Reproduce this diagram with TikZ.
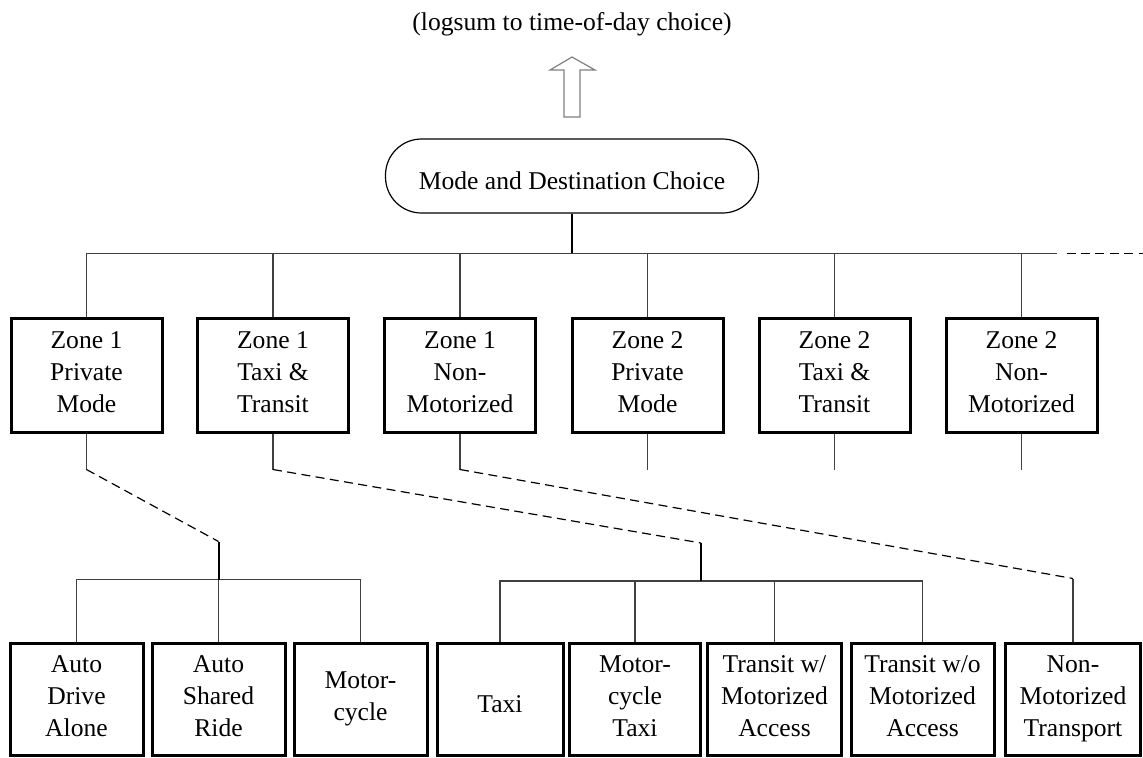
\documentclass[tikz,border=0pt]{standalone}
\usepackage{fontspec}
\setmainfont{Liberation Serif}

\begin{document}
\begin{tikzpicture}[x=0.5pt,y=-0.5pt,
	every node/.style={font=\fontsize{12.8pt}{15.8pt}\selectfont, align=center, inner sep=0pt,
		execute at begin node=\rule{0pt}{16pt}, execute at end node=\rule[-3pt]{0pt}{3pt}},
	zonebox/.style={draw, line width=1.5pt, minimum width=75.5pt, minimum height=57pt},
	altbox/.style={draw, line width=1.5pt, minimum height=56pt},
	link/.style={black!75, line width=0.55pt},
	trunk/.style={black, line width=1pt},
	nest/.style={black, line width=0.6pt, dash pattern=on 4.5pt off 2.7pt}]
		\useasboundingbox (0,0) rectangle (1143,757);

		\node (logsum) at (572,17) {(logsum to time-of-day choice)};
		\draw[gray, line width=0.6pt] (564,117) -- (564,70) -- (550,70) -- (572,57) -- (595,70) -- (580,70) -- (580,117) -- cycle;
		\node[draw, line width=0.6pt, rounded corners=18pt, minimum width=186.5pt, minimum height=37pt] (md) at (572,176) {Mode and Destination Choice};

		\foreach \i/\x/\txt in {1/86.5/{Zone 1\\Private\\Mode}, 2/273/{Zone 1\\Taxi \&\\Transit}, 3/460/{Zone 1\\Non-\\Motorized},
			4/647.5/{Zone 2\\Private\\Mode}, 5/834.5/{Zone 2\\Taxi \&\\Transit}, 6/1021.5/{Zone 2\\Non-\\Motorized}}{
			\node[zonebox] (z\i) at (\x,375) {\txt};
		}

		\draw[trunk] (md.south) -- ++(0,40) coordinate (hub);
		\draw[link] (z1.north) -- (z1.north |- hub) -- (z6.north |- hub) -- ++(35,0) coordinate (busend);
		\draw[nest] ([xshift=5pt]busend) -- ([xshift=43pt]busend);
		\foreach \i in {2,...,6}{
			\draw[link] (z\i.north) -- (z\i.north |- hub);
		}
		\foreach \i in {1,...,6}{
			\draw[link] (z\i.south) -- ++(0,36) coordinate (s\i);
		}

		\node[altbox, minimum width=66.5pt] (a1) at (76.5,699) {Auto\\Drive\\Alone};
		\node[altbox, minimum width=66.5pt] (a2) at (218.5,699) {Auto\\Shared\\Ride};
		\node[altbox, minimum width=66.5pt] (a3) at (360.5,699) {Motor-\\cycle};
		\node[altbox, minimum width=63pt] (a4) at (500,699) {Taxi};
		\node[altbox, minimum width=65.5pt] (a5) at (635,699) {Motor-\\cycle\\Taxi};
		\node[altbox, minimum width=67pt] (a6) at (774.5,699) {Transit w/\\Motorized\\Access};
		\node[altbox, minimum width=71.5pt] (a7) at (922.5,699) {Transit w/o\\Motorized\\Access};
		\node[altbox, minimum width=67.5pt] (a8) at (1073,699) {Non-\\Motorized\\Transport};

		\draw[link] (a2.north) -- ++(0,-62) coordinate (pbar);
		\draw[link] (a1.north) -- (a1.north |- pbar) -- (a3.north |- pbar) -- (a3.north);
		\draw[trunk] (pbar) -- ++(0,-38) coordinate (pj);
		\draw[nest] (s1) -- (pj);

		\coordinate (tbar) at (701,581);
		\draw[link] (a4.north) -- (a4.north |- tbar) -- (a7.north |- tbar) -- (a7.north);
		\draw[link] (a5.north) -- (a5.north |- tbar);
		\draw[link] (a6.north) -- (a6.north |- tbar);
		\draw[trunk] (tbar) -- ++(0,-38) coordinate (tj);
		\draw[nest] (s2) -- (tj);

		\draw[link] (a8.north) -- ++(0,-63) coordinate (nj);
		\draw[nest] (s3) -- (nj);
	\end{tikzpicture}
\end{document}
